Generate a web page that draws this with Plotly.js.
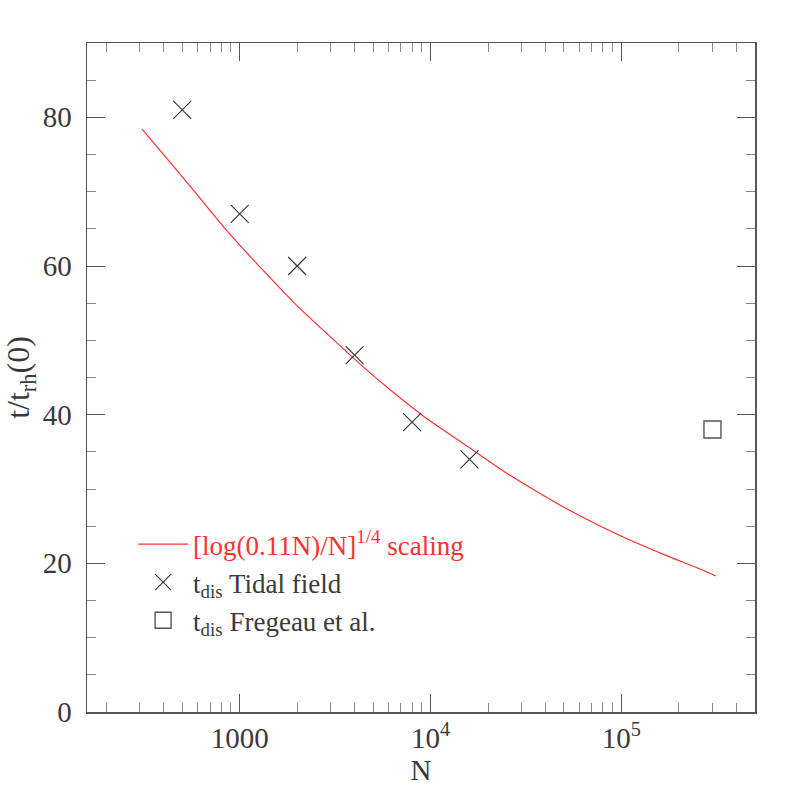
<!DOCTYPE html>
<html>
<head>
<meta charset="utf-8">
<script src="https://cdn.plot.ly/plotly-3.0.1.min.js"></script>
<style>
  html, body { margin: 0; padding: 0; background: #fff; }
  #chart { width: 797px; height: 797px; }
</style>
</head>
<body>
<div id="chart"></div>
<script>
// Scaling curve [log(0.11N)/N]^{1/4}
const scalingN = [308, 430, 594, 854, 1328, 1989, 2978, 4452, 6663, 9190, 14900, 26220, 34710, 51950, 77690, 116100, 173900, 260300, 312000];
const scalingT = [78.4, 74.0, 69.7, 64.8, 59.4, 54.7, 50.5, 46.4, 42.6, 39.8, 36.1, 31.8, 29.9, 27.3, 25.0, 22.9, 21.0, 19.2, 18.3];

// t_dis with tidal field
const tidalN = [500, 1000, 2000, 4000, 8000, 16000];
const tidalT = [81, 67, 60, 48, 39, 34];

// t_dis from Fregeau et al.
const fregeauN = [300000];
const fregeauT = [38];

// axis ticks
const xTickVals = [1000, 1e4, 1e5];
const xTickText = ['1000', '10<sup>4</sup>', '10<sup>5</sup>'];

const FONT = 'Liberation Serif, Times New Roman, serif';
const TEXT = '#3a3a3a';
const FRAME = '#555';

// minor ticks on the log axis: 2..9 of each decade
const xMinor = [];
[100, 1000, 10000, 100000].forEach(d => {
    for (let k = 2; k <= 9; k++) {
        if (d * k < 5.1e5) xMinor.push(d * k);
    }
});

const traces = [
    {
        x: scalingN,
        y: scalingT,
        name: '<span style="color:#ff3030">[log(0.11N)/N]<sup>1/4</sup> scaling</span>',
        mode: 'lines',
        line: { color: '#ff3030', width: 1.2, shape: 'spline', smoothing: 0.8 },
        legendgroup: 'a'
    },
    {
        x: tidalN,
        y: tidalT,
        name: 't<sub>dis</sub> Tidal field',
        mode: 'markers',
        marker: { symbol: 'x-thin', size: 18, color: '#333', line: { color: '#333', width: 1.1 } },
        legendgroup: 'b'
    },
    {
        x: fregeauN,
        y: fregeauT,
        name: 't<sub>dis</sub> Fregeau et al.',
        mode: 'markers',
        marker: { symbol: 'square-open', size: 17, color: '#555', line: { color: '#555', width: 1.4 } },
        legendgroup: 'c'
    }
];

const layout = {
    width: 797,
    height: 797,
    margin: { l: 87, r: 42, t: 43, b: 85 },
    paper_bgcolor: '#fff',
    plot_bgcolor: '#fff',
    font: { family: FONT, color: TEXT, size: 24 },
    showlegend: true,
    legend: {
        x: 0.069,
        y: 0.287,
        xanchor: 'left',
        yanchor: 'top',
        bgcolor: 'rgba(0,0,0,0)',
        font: { family: FONT, size: 27, color: TEXT },
        traceorder: 'grouped',
        tracegroupgap: 0,
        itemwidth: 50
    },
    xaxis: {
        type: 'log',
        range: [2.2, 5.7],
        tickmode: 'array',
        tickvals: xTickVals,
        ticktext: xTickText,
        ticks: 'inside',
        ticklen: 18,
        tickwidth: 1,
        tickcolor: FRAME,
        showline: true,
        linecolor: FRAME,
        linewidth: 1.5,
        mirror: 'ticks',
        showgrid: false,
        zeroline: false,
        ticklabelstandoff: 0,
        tickfont: { family: FONT, size: 29, color: TEXT },
        minor: {
            tickmode: 'array',
            tickvals: xMinor,
            ticks: 'inside',
            ticklen: 9,
            tickwidth: 1,
            tickcolor: '#888',
            showgrid: false
        },
        title: { text: 'N', standoff: 2, font: { family: FONT, size: 29, color: TEXT } }
    },
    yaxis: {
        range: [0, 90],
        tickmode: 'linear',
        tick0: 0,
        dtick: 20,
        ticks: 'inside',
        ticklen: 18,
        tickwidth: 1,
        tickcolor: FRAME,
        showline: true,
        linecolor: FRAME,
        linewidth: 1.5,
        mirror: 'ticks',
        showgrid: false,
        zeroline: false,
        ticklabelstandoff: 8,
        tickfont: { family: FONT, size: 29, color: TEXT },
        minor: {
            dtick: 5,
            ticks: 'inside',
            ticklen: 9,
            tickwidth: 1,
            tickcolor: '#888',
            showgrid: false
        },
        title: { text: 't/t<sub>rh</sub>(0)', standoff: 8, font: { family: FONT, size: 32, color: TEXT } }
    }
};

Plotly.newPlot('chart', traces, layout, { displayModeBar: false, staticPlot: true });
</script>
</body>
</html>
